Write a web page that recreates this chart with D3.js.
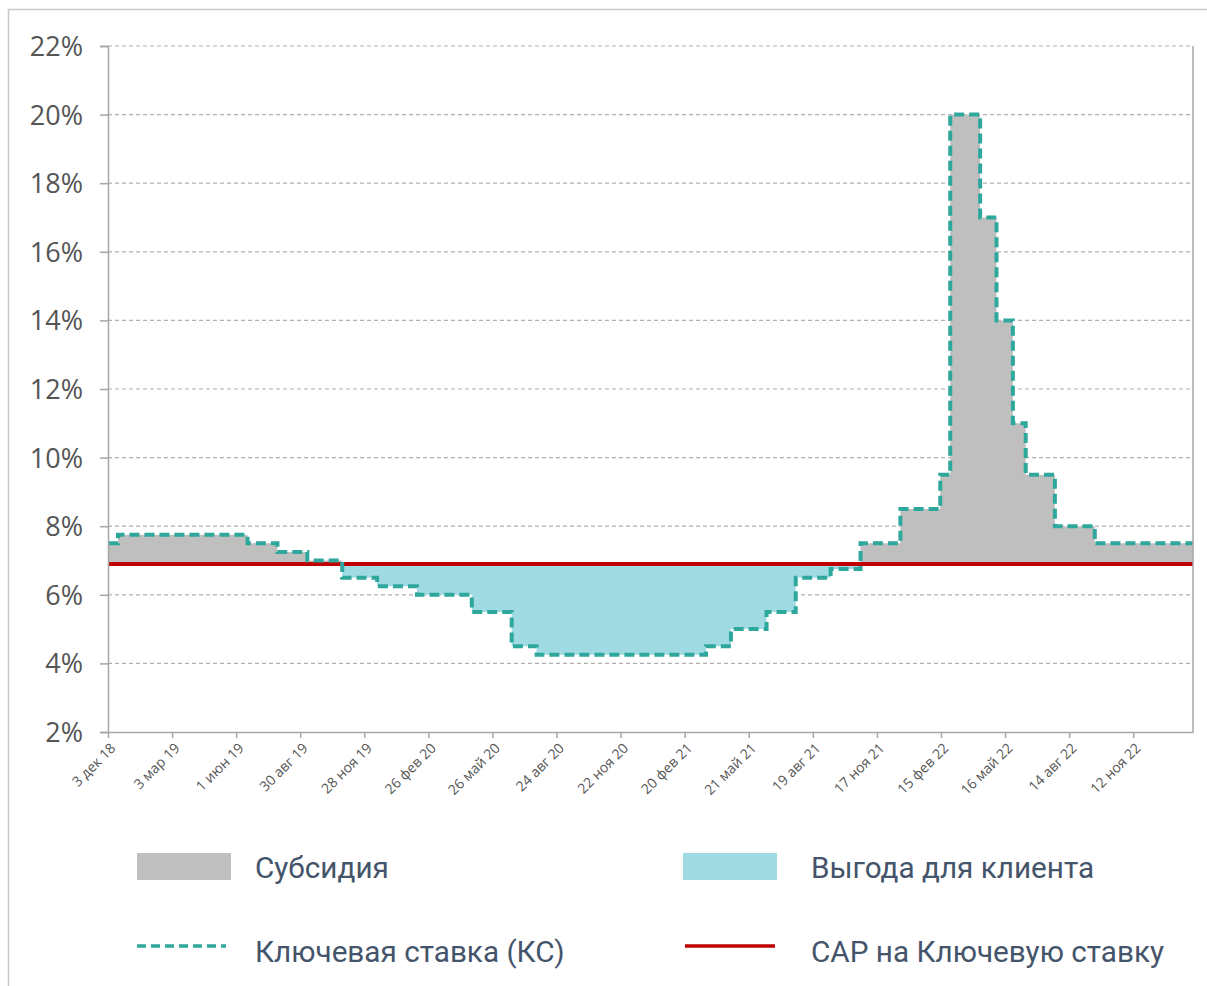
<!DOCTYPE html>
<html>
<head>
<meta charset="utf-8">
<script src="https://cdn.jsdelivr.net/npm/d3@7"></script>
<style>
  html, body { margin: 0; padding: 0; background: #fff; }
  svg { display: block; }
</style>
</head>
<body>
<svg id="chart" width="1207" height="986"></svg>
<script>
// ---- Data ----
const rateDates = ["2018-12-03","2018-12-17","2019-06-17","2019-07-29","2019-09-09","2019-10-28",
  "2019-12-16","2020-02-10","2020-04-27","2020-06-22","2020-07-27","2021-03-22","2021-04-26",
  "2021-06-15","2021-07-26","2021-09-13","2021-10-25","2021-12-20","2022-02-14","2022-02-28",
  "2022-04-11","2022-05-04","2022-05-27","2022-06-14","2022-07-25","2022-09-19","2023-02-04"];
const keyRates = [7.5,7.75,7.5,7.25,7.0,6.5,6.25,6.0,5.5,4.5,4.25,4.5,5.0,5.5,6.5,6.75,7.5,8.5,9.5,20,17,14,11,9.5,8,7.5,7.5];
const capRate = 6.9;
const xTickDates = ["2018-12-03","2019-03-03","2019-06-01","2019-08-30","2019-11-28","2020-02-26",
  "2020-05-26","2020-08-24","2020-11-22","2021-02-20","2021-05-21","2021-08-19","2021-11-17",
  "2022-02-15","2022-05-16","2022-08-14","2022-11-12"];
const xTickLabels = ["3 дек 18","3 мар 19","1 июн 19","30 авг 19","28 ноя 19","26 фев 20",
  "26 май 20","24 авг 20","22 ноя 20","20 фев 21","21 май 21","19 авг 21","17 ноя 21",
  "15 фев 22","16 май 22","14 авг 22","12 ноя 22"];
const yTicks = [2,4,6,8,10,12,14,16,18,20,22];
const legendNames = ["Субсидия","Выгода для клиента","Ключевая ставка (КС)","САР на Ключевую ставку"];

// ---- Setup ----
const svg = d3.select("#chart");
const parse = d3.utcParse("%Y-%m-%d");
const data = rateDates.map((d,i) => ({date: parse(d), v: keyRates[i]}));

const pL = 108, pR = 1193, pT = 46, pB = 732;
const x = d3.scaleUtc().domain([parse(rateDates[0]), parse(rateDates[rateDates.length-1])]).range([pL, pR]);
const y = d3.scaleLinear().domain([2,22]).range([pB, pT]);

const colGrey = "#bfbfbf", colBlue = "#a0dbe3", colTeal = "#2ea89c", colRed = "#c00000";
const axisCol = "#a6a6a6";

// outer frame
svg.append("path").attr("d", `M8.5,986 L8.5,9.5 L1207,9.5`).attr("fill","none")
  .attr("stroke","#c9c9c9").attr("stroke-width",1.5);

// gridlines
svg.append("g").selectAll("line").data(yTicks.filter(t => t > 2)).join("line")
  .attr("x1", pL).attr("x2", pR).attr("y1", d => y(d)).attr("y2", d => y(d))
  .attr("stroke", "#b0b0b0").attr("stroke-width", 1.2).attr("stroke-dasharray", "4,3");

// areas
const areaGrey = d3.area().curve(d3.curveStepAfter)
  .x(d => x(d.date)).y0(y(capRate)).y1(d => y(Math.max(d.v, capRate)));
const areaBlue = d3.area().curve(d3.curveStepAfter)
  .x(d => x(d.date)).y0(y(capRate)).y1(d => y(Math.min(d.v, capRate)));
svg.append("path").datum(data).attr("d", areaGrey).attr("fill", colGrey);
svg.append("path").datum(data).attr("d", areaBlue).attr("fill", colBlue);

// cap line
svg.append("line").attr("x1", pL).attr("x2", pR).attr("y1", y(capRate)).attr("y2", y(capRate))
  .attr("stroke", colRed).attr("stroke-width", 4);

// key rate line
const line = d3.line().curve(d3.curveStepAfter).x(d => x(d.date)).y(d => y(d.v));
svg.append("path").datum(data).attr("d", line).attr("fill","none")
  .attr("stroke", colTeal).attr("stroke-width", 4).attr("stroke-dasharray", "10,5");

// y axis
const yAxis = d3.axisLeft(y).tickValues(yTicks).tickSize(8).tickFormat(d => d + "%");
const gy = svg.append("g").attr("transform", `translate(${pL},0)`).call(yAxis);
gy.select(".domain").attr("stroke", axisCol).attr("stroke-width", 1.5);
gy.selectAll(".tick line").attr("stroke", axisCol).attr("stroke-width", 1.5);
gy.selectAll(".tick text").attr("x", -25).attr("dy", "0.35em")
  .attr("font-family", "'Open Sans', sans-serif").attr("font-size", 27).attr("fill", "#555");

// right border
svg.append("line").attr("x1", pR).attr("x2", pR).attr("y1", pT).attr("y2", pB)
  .attr("stroke", axisCol).attr("stroke-width", 1.5);

// x axis
const xTicks = xTickDates.map(parse);
const xAxis = d3.axisBottom(x).tickValues(xTicks).tickSize(6).tickSizeOuter(0)
  .tickFormat((d,i) => xTickLabels[i]);
const gx = svg.append("g").attr("transform", `translate(0,${pB})`).call(xAxis);
gx.select(".domain").attr("stroke", axisCol).attr("stroke-width", 1.5);
gx.selectAll(".tick line").attr("stroke", axisCol).attr("stroke-width", 1.5);
gx.selectAll(".tick text")
  .attr("font-family", "'Open Sans', sans-serif").attr("font-size", 14).attr("fill", "#555")
  .attr("text-anchor", "end").attr("y", 0).attr("dy", 0)
  .attr("transform", "translate(8,17) rotate(-45)");

// legend
const lg = svg.append("g").attr("font-family", "Roboto, sans-serif").attr("font-size", 29.7).attr("fill", "#44546a");
lg.append("rect").attr("x",137).attr("y",853).attr("width",94).attr("height",27).attr("fill", colGrey);
lg.append("rect").attr("x",683).attr("y",853).attr("width",94).attr("height",27).attr("fill", colBlue);
lg.append("line").attr("x1",137).attr("x2",226).attr("y1",946).attr("y2",946)
  .attr("stroke", colTeal).attr("stroke-width",3.5).attr("stroke-dasharray","9,5");
lg.append("line").attr("x1",685).attr("x2",775).attr("y1",946).attr("y2",946)
  .attr("stroke", colRed).attr("stroke-width",3.5);
const lpos = [[255,878],[811,878],[255,962],[811,962]];
lg.selectAll("text").data(legendNames).join("text")
  .attr("x", (d,i) => lpos[i][0]).attr("y", (d,i) => lpos[i][1]).text(d => d);
</script>
</body>
</html>
